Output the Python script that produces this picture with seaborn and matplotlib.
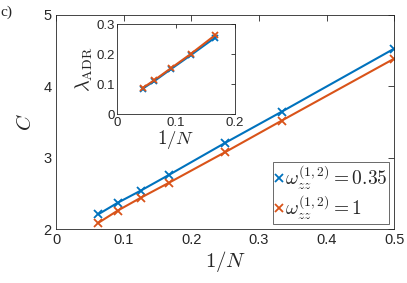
import matplotlib
matplotlib.use("Agg")
import matplotlib.pyplot as plt
import seaborn as sns
import pandas as pd
import numpy as np

sns.set_theme(style="white")
plt.rcParams['font.family'] = ['Liberation Sans', 'DejaVu Sans']
plt.rcParams['mathtext.fontset'] = 'cm'

# Main data
inv_n = [1/16, 1/11, 1/8, 1/6, 1/4, 1/3, 1/2]
c_035 = [2.21, 2.37, 2.54, 2.76, 3.21, 3.645, 4.53]
c_1 = [2.09, 2.26, 2.44, 2.65, 3.08, 3.52, 4.39]

# Inset data
inv_n_in = [1/23, 1/16, 1/11, 1/8, 1/6]
lam_035 = [0.086, 0.110, 0.150, 0.197, 0.256]
lam_1 = [0.088, 0.113, 0.153, 0.201, 0.264]

labels = [r'$\omega_{zz}^{(1,2)}=0.35$', r'$\omega_{zz}^{(1,2)}=1$']
colors = ['#0072BD', '#D95319']

main_df = pd.DataFrame({
    'x': inv_n * 2,
    'y': c_035 + c_1,
    's': [labels[0]] * len(inv_n) + [labels[1]] * len(inv_n),
})
inset_df = pd.DataFrame({
    'x': inv_n_in * 2,
    'y': lam_035 + lam_1,
    's': [labels[0]] * len(inv_n_in) + [labels[1]] * len(inv_n_in),
})


def style_axes(a, ls, tl):
    a.tick_params(direction='in', length=tl, width=0.6, top=True, right=True,
                  labelsize=ls, colors='#262626', pad=3)
    for sp in a.spines.values():
        sp.set_color('#262626')
        sp.set_linewidth(0.6)


fig = plt.figure(figsize=(4.07, 2.83), dpi=100)
ax = fig.add_axes([0.1376, 0.1898, 0.9688 - 0.1376, 0.947 - 0.1898])

sns.lineplot(data=main_df, x='x', y='y', hue='s', palette=colors,
             lw=1.5, ax=ax, legend=False, estimator=None, sort=True)
for i, lab in enumerate(labels):
    sub = main_df[main_df['s'] == lab]
    ax.plot(sub['x'], sub['y'], color=colors[i], lw=0, marker='x',
            markersize=5.5, mew=1.3, label=lab)

ax.set_xlim(0, 0.5)
ax.set_ylim(2, 5)
ax.set_xticks([0, 0.1, 0.2, 0.3, 0.4, 0.5])
ax.set_xticklabels(['0', '0.1', '0.2', '0.3', '0.4', '0.5'])
ax.set_yticks([2, 3, 4, 5])
style_axes(ax, 10.5, 4)
ax.set_xlabel(r'$1/N$', fontsize=15, labelpad=1)
ax.set_ylabel(r'$C$', fontsize=15, labelpad=6)

leg = ax.legend(loc='lower right', fontsize=14, frameon=True, fancybox=False,
                edgecolor='#262626', handlelength=0.4, handletextpad=0.1,
                borderpad=0.12, labelspacing=0.1, borderaxespad=0.25)
leg.get_frame().set_linewidth(0.6)

# Inset
ax2 = fig.add_axes([0.2882, 0.5961, 0.5767 - 0.2882, 0.9141 - 0.5961])
sns.lineplot(data=inset_df, x='x', y='y', hue='s', palette=colors,
             lw=1.5, ax=ax2, legend=False, estimator=None, sort=True)
for i, lab in enumerate(labels):
    sub = inset_df[inset_df['s'] == lab]
    ax2.plot(sub['x'], sub['y'], color=colors[i], lw=0, marker='x',
             markersize=5, mew=1.3)
ax2.set_xlim(0, 0.2)
ax2.set_ylim(0, 0.3)
ax2.set_xticks([0, 0.1, 0.2])
ax2.set_xticklabels(['0', '0.1', '0.2'])
ax2.set_yticks([0, 0.1, 0.2, 0.3])
ax2.set_yticklabels(['0', '0.1', '0.2', '0.3'])
style_axes(ax2, 9.5, 3)
ax2.tick_params(pad=2)
ax2.set_xlabel(r'$1/N$', fontsize=13.5, labelpad=-1)
ax2.set_ylabel(r'$\lambda_{\mathrm{ADR}}$', fontsize=14.5, labelpad=1)

fig.text(0.0, 0.955, 'c)', fontsize=11, family=['Liberation Serif', 'DejaVu Serif'],
         ha='left', va='center')

fig.savefig('out.png', dpi=100)
